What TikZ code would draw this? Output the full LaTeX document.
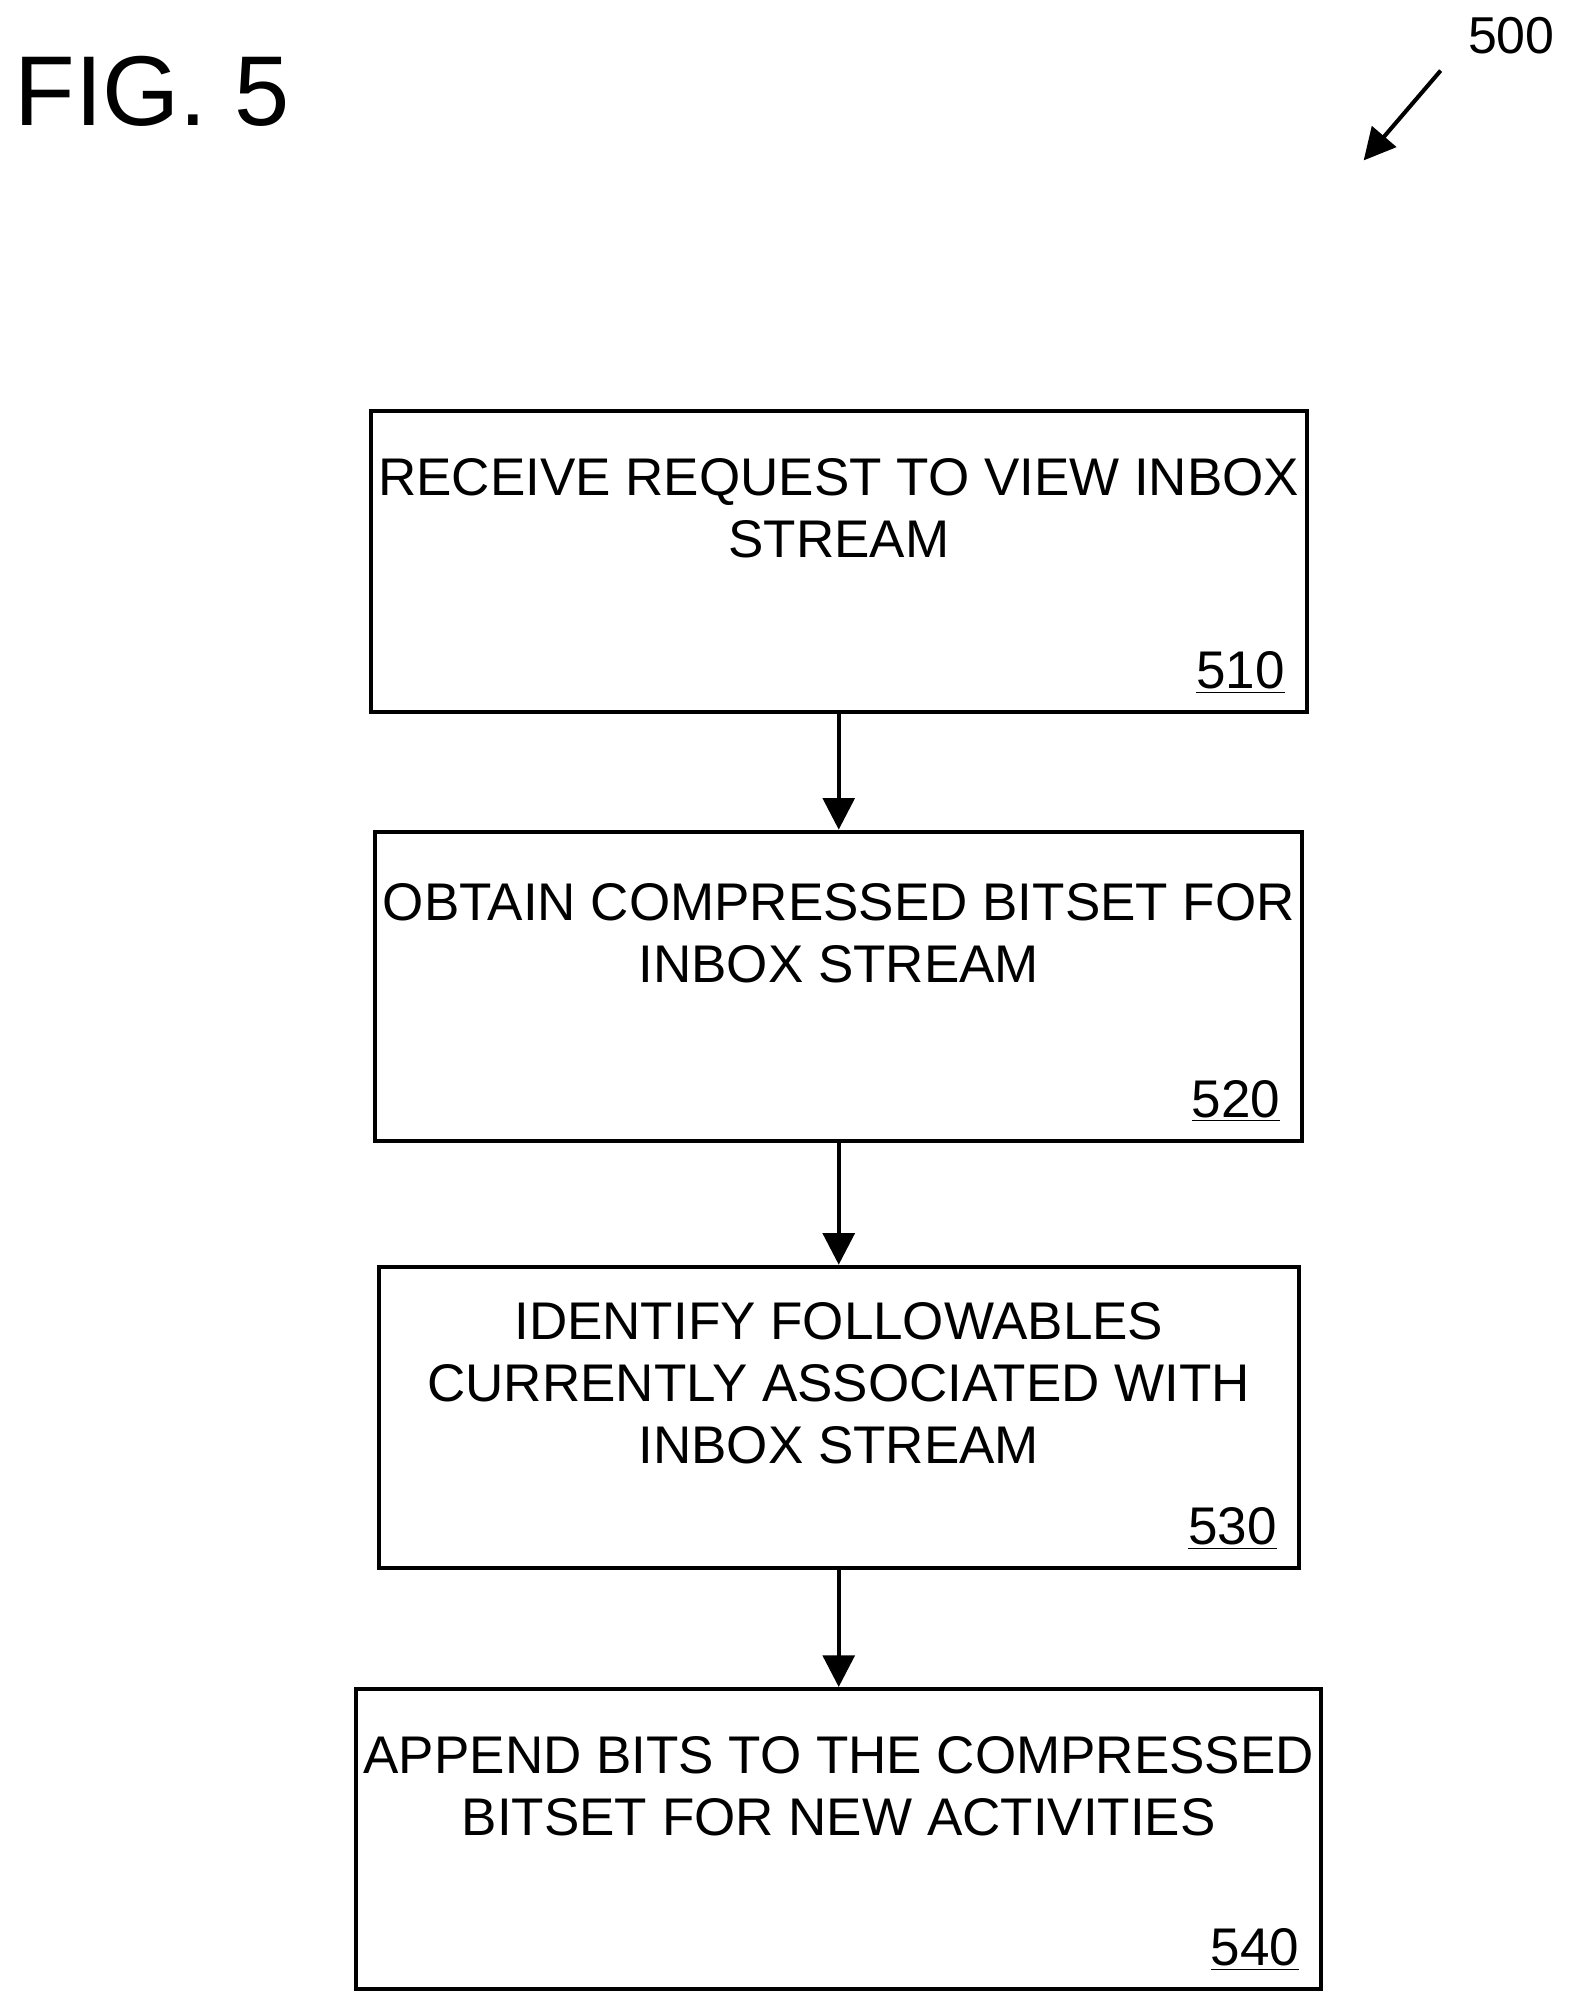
\documentclass[tikz,border=0pt]{standalone}
\usepackage{fontspec}
\setmainfont{Liberation Sans}
\usetikzlibrary{positioning, arrows.meta}

\tikzset{
	task/.style={draw, line width=1.8pt, minimum width=14.34cm, align=center, font=\fontsize{23.5}{27.5}\selectfont},
	ref/.style={anchor=south east, font=\fontsize{23.5}{27.5}\selectfont},
	flow/.style={-{Triangle[length=14pt,width=14pt]}, line width=1.8pt}
}

\begin{document}
\begin{tikzpicture}
	\useasboundingbox (0,0) rectangle (24.6,-31.4);
	
	\node[anchor=north west, font=\fontsize{44}{48}\selectfont] (fig) at (0.1,-0.75) {FIG. 5};
	\node[anchor=north east, font=\fontsize{23}{26}\selectfont] (num) at (24.35,-0.15) {500};
	\coordinate (tail) at (22.45,-1.1);
	\coordinate (head) at (21.25,-2.5);
	\draw[flow] (tail) -- (head);
	
	\node[task, minimum height=4.7cm] (s1) at (13.07,-8.75) {RECEIVE REQUEST TO VIEW INBOX\\STREAM\\[0.7cm]};
	\node[task, minimum height=4.82cm] (s2) at (13.07,-15.37) {OBTAIN COMPRESSED BITSET FOR\\INBOX STREAM\\[0.7cm]};
	\node[task, minimum height=4.7cm] (s3) at (13.07,-22.09) {IDENTIFY FOLLOWABLES\\CURRENTLY ASSOCIATED WITH\\INBOX STREAM\\[0.1cm]};
	\node[task, minimum height=4.68cm] (s4) at (13.07,-28.66) {APPEND BITS TO THE COMPRESSED\\BITSET FOR NEW ACTIVITIES\\[0.7cm]};
	
	\node[ref] at ([xshift=-0.25cm,yshift=0.2cm]s1.south east) {\underline{510}};
	\node[ref] at ([xshift=-0.25cm,yshift=0.2cm]s2.south east) {\underline{520}};
	\node[ref] at ([xshift=-0.25cm,yshift=0.2cm]s3.south east) {\underline{530}};
	\node[ref] at ([xshift=-0.25cm,yshift=0.2cm]s4.south east) {\underline{540}};
	
	\draw[flow] (s1) -- (s2);
	\draw[flow] (s2) -- (s3);
	\draw[flow] (s3) -- (s4);
\end{tikzpicture}
\end{document}
